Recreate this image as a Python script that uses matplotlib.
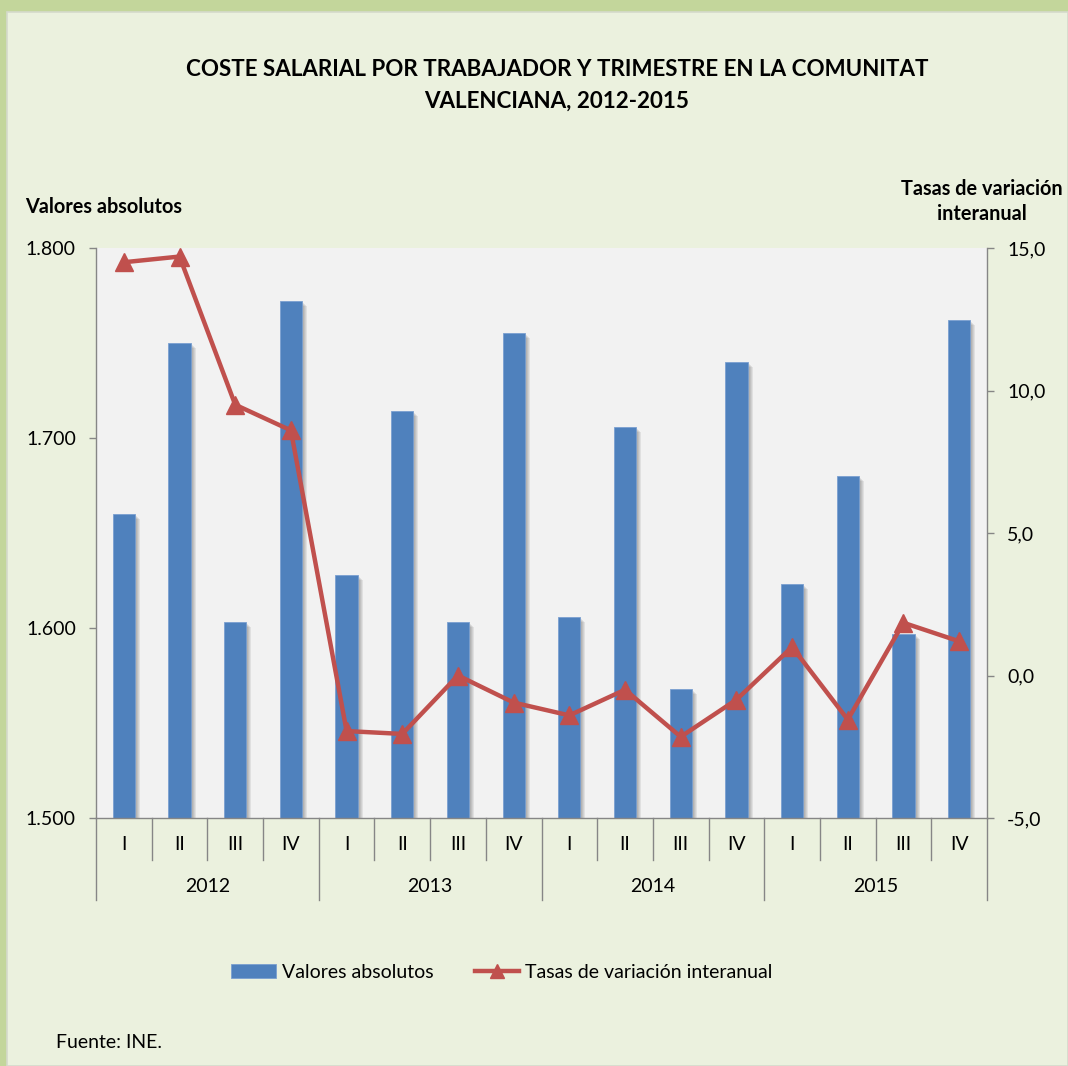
import matplotlib
matplotlib.use('Agg')
import matplotlib.pyplot as plt
from matplotlib.patches import Rectangle
import matplotlib.transforms as mtransforms
from matplotlib.ticker import FuncFormatter, FixedLocator

years = ['2012', '2013', '2014', '2015']
quarters = ['I', 'II', 'III', 'IV']
valores = [1660, 1750, 1603, 1772, 1628, 1714, 1603, 1755,
           1606, 1706, 1568, 1740, 1623, 1680, 1597, 1762]
tasas = [14.5, 14.7, 9.5, 8.6, -1.95, -2.05, 0.0, -0.95,
         -1.4, -0.5, -2.15, -0.85, 1.0, -1.55, 1.85, 1.2]
left_ticks = [1500, 1600, 1700, 1800]
right_ticks = [-5, 0, 5, 10, 15]

plt.rcParams['font.family'] = ['Lato', 'DejaVu Sans']

W, H = 1068, 1066
fig = plt.figure(figsize=(W / 100, H / 100), dpi=100)
fig.patch.set_facecolor('#C3D69B')
fig.patches.append(Rectangle((7 / W, 0), (W - 7) / W, (H - 12) / H, transform=fig.transFigure,
                             facecolor='#EBF1DE', edgecolor='#D5DACB', lw=1.2, zorder=-5))

def fx(px):
    return px / W

def fy(py):
    return 1 - py / H

FS = 14.0
FSB = 14.3

AX_L, AX_R, AX_T, AX_B = 96, 987, 248, 818
ax = fig.add_axes([fx(AX_L), fy(AX_B), (AX_R - AX_L) / W, (AX_B - AX_T) / H])
ax.set_facecolor('#F2F2F2')
axh = AX_B - AX_T

n = len(valores)
x = list(range(n))
bw = 0.4

# shadows
for k in range(1, 6):
    tr = mtransforms.offset_copy(ax.transData, fig=fig, x=k * 1.0, y=-k * 1.0, units='dots')
    ax.bar(x, valores, width=bw, color='black', alpha=0.07, transform=tr, zorder=1, linewidth=0)
bars = ax.bar(x, valores, width=bw, color='#4F81BD', edgecolor='#7A9FD0', linewidth=0.6, zorder=2)

ax.set_xlim(-0.5, n - 0.5)
ax.set_ylim(1500, 1800)
ax.yaxis.set_major_locator(FixedLocator(left_ticks))
ax.yaxis.set_major_formatter(FuncFormatter(lambda v, p: f"{v:,.0f}".replace(',', '.')))
ax.set_xticks([])
for s in ['top', 'right']:
    ax.spines[s].set_visible(False)
for s in ['left', 'bottom']:
    ax.spines[s].set_color('#868686')
    ax.spines[s].set_linewidth(1.0)
ax.tick_params(axis='y', direction='out', length=5, width=1, color='#868686',
               labelsize=FS, pad=9.5, labelcolor='black')

ax2 = ax.twinx()
ax2.set_ylim(-5, 15)
ax2.yaxis.set_major_locator(FixedLocator(right_ticks))
ax2.yaxis.set_major_formatter(FuncFormatter(lambda v, p: f"{v:.1f}".replace('.', ',')))
for s in ['top', 'left', 'bottom']:
    ax2.spines[s].set_visible(False)
ax2.spines['right'].set_color('#868686')
ax2.spines['right'].set_linewidth(1.0)
ax2.tick_params(axis='y', direction='out', length=5, width=1, color='#868686',
                labelsize=FS, pad=9.5, labelcolor='black')
line, = ax2.plot(x, tasas, color='#C0504D', lw=3.2, marker='^', ms=13,
                 mfc='#C0504D', mec='#C0504D', mew=1, zorder=3)

# category axis: separators and labels
btr = ax.get_xaxis_transform()
q_len = 42 / axh
y_len = 82 / axh
for b in range(n + 1):
    length = y_len if b % 4 == 0 else q_len
    ax.plot([b - 0.5, b - 0.5], [0, -length], transform=btr, color='#868686',
            lw=1, clip_on=False, zorder=5)
for i in range(n):
    ax.text(i, -27 / axh, quarters[i % 4], transform=btr, ha='center', va='center',
            fontsize=FS)
for j, yr in enumerate(years):
    ax.text(4 * j + 1.5, -69 / axh, yr, transform=btr, ha='center', va='center',
            fontsize=FS)

# titles
fig.text(fx(557), fy(70), 'COSTE SALARIAL POR TRABAJADOR Y TRIMESTRE EN LA COMUNITAT',
         ha='center', va='center', fontsize=16.1, fontweight='bold')
fig.text(fx(557), fy(101), 'VALENCIANA, 2012-2015', ha='center', va='center',
         fontsize=16.1, fontweight='bold')
fig.text(fx(25), fy(207), 'Valores absolutos', ha='left', va='center',
         fontsize=FSB, fontweight='bold')
fig.text(fx(982), fy(189), 'Tasas de variación', ha='center', va='center',
         fontsize=FSB, fontweight='bold')
fig.text(fx(982), fy(214), 'interanual', ha='center', va='center',
         fontsize=FSB, fontweight='bold')

fig.legend(handles=[bars, line], labels=['Valores absolutos', 'Tasas de variación interanual'],
           loc='center', bbox_to_anchor=(fx(502), fy(972)), ncol=2, frameon=False,
           fontsize=FS, handlelength=2.3, handletextpad=0.32, columnspacing=2.1,
           markerscale=0.75)

fig.text(fx(56), fy(1042), 'Fuente: INE.', ha='left', va='center', fontsize=FS)

fig.savefig('out.png', dpi=100, facecolor=fig.get_facecolor())
